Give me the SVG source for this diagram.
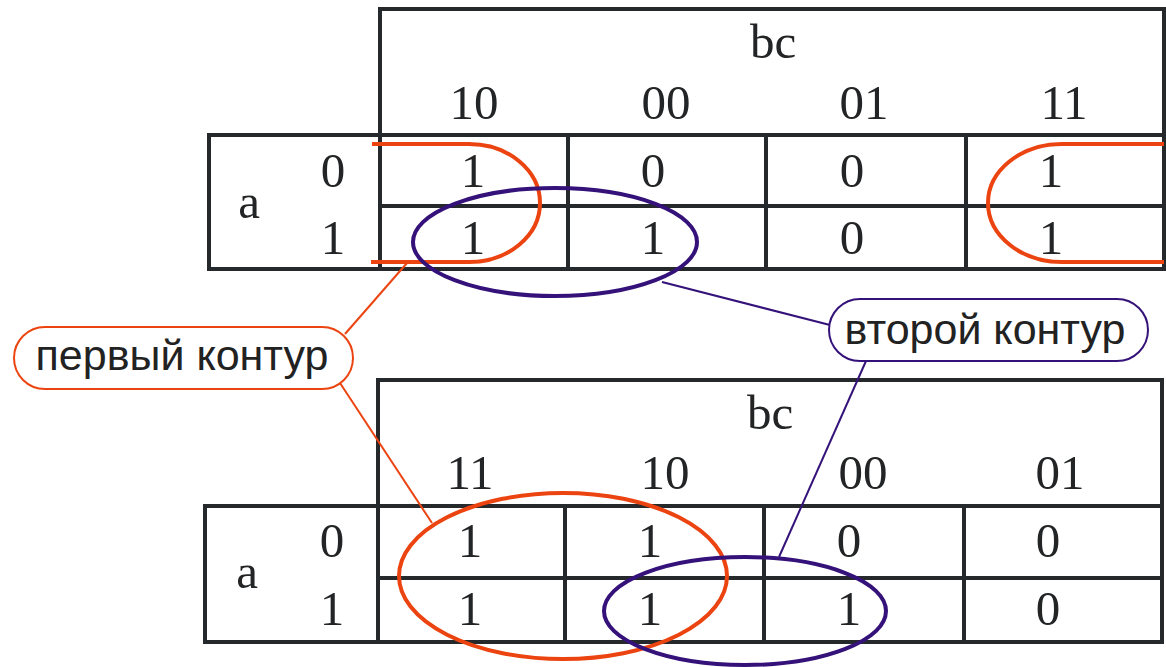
<svg xmlns="http://www.w3.org/2000/svg" width="1166" height="667" viewBox="0 0 1166 667">
<style>
.grid{fill:none;stroke:#26292c;stroke-width:4}
.t{font-family:"Liberation Serif","Times New Roman",serif;font-size:49px;fill:#222426;text-anchor:middle}
.lbl{font-family:"Liberation Sans",Arial,sans-serif;font-size:43px;fill:#222;text-anchor:middle}
.or{fill:none;stroke:#ec4410;stroke-width:4}
.pu{fill:none;stroke:#34127a;stroke-width:4}
.orl{fill:none;stroke:#ec4410;stroke-width:2}
.pul{fill:none;stroke:#34127a;stroke-width:2}
</style>
<rect width="1166" height="667" fill="#fff"/>

<g id="table1">
<rect class="grid" x="380" y="9" width="784" height="126"/>
<rect class="grid" x="209" y="135" width="171" height="134"/>
<rect class="grid" x="380" y="135" width="784" height="134"/>
<line class="grid" x1="380" y1="206" x2="1164" y2="206"/>
<line class="grid" x1="568" y1="135" x2="568" y2="269"/>
<line class="grid" x1="766" y1="135" x2="766" y2="269"/>
<line class="grid" x1="966" y1="135" x2="966" y2="269"/>
<text class="t" x="773" y="58">bc</text>
<text class="t" x="474" y="119">10</text>
<text class="t" x="666" y="119">00</text>
<text class="t" x="864" y="119">01</text>
<text class="t" x="1064" y="119">11</text>
<text class="t" x="249" y="218">a</text>
<text class="t" x="333" y="187">0</text>
<text class="t" x="333" y="254">1</text>
<text class="t" x="473" y="187">1</text>
<text class="t" x="653" y="187">0</text>
<text class="t" x="852" y="187">0</text>
<text class="t" x="1051" y="187">1</text>
<text class="t" x="473" y="254">1</text>
<text class="t" x="653" y="254">1</text>
<text class="t" x="852" y="254">0</text>
<text class="t" x="1051" y="254">1</text>
</g>

<g id="table2">
<rect class="grid" x="378" y="380" width="784" height="126"/>
<rect class="grid" x="205" y="506" width="173" height="136"/>
<rect class="grid" x="378" y="506" width="784" height="136"/>
<line class="grid" x1="378" y1="578" x2="1162" y2="578"/>
<line class="grid" x1="565" y1="506" x2="565" y2="642"/>
<line class="grid" x1="764" y1="506" x2="764" y2="642"/>
<line class="grid" x1="964" y1="506" x2="964" y2="642"/>
<text class="t" x="770" y="429">bc</text>
<text class="t" x="470" y="489">11</text>
<text class="t" x="665" y="489">10</text>
<text class="t" x="863" y="489">00</text>
<text class="t" x="1060" y="489">01</text>
<text class="t" x="247" y="588">a</text>
<text class="t" x="332" y="557">0</text>
<text class="t" x="332" y="625">1</text>
<text class="t" x="470" y="557">1</text>
<text class="t" x="650" y="557">1</text>
<text class="t" x="849" y="557">0</text>
<text class="t" x="1048" y="557">0</text>
<text class="t" x="470" y="625">1</text>
<text class="t" x="650" y="625">1</text>
<text class="t" x="849" y="625">1</text>
<text class="t" x="1048" y="625">0</text>
</g>

<g id="contours">
<path class="or" d="M372 144 H469 A71 59 0 0 1 469 262 H371"/>
<path class="or" d="M1164 144 H1062 A74 59 0 0 0 1062 262 H1164"/>
<ellipse class="pu" cx="555" cy="242" rx="142" ry="54"/>
<ellipse class="or" cx="563" cy="576" rx="164" ry="83"/>
<ellipse class="pu" cx="745" cy="611" rx="141" ry="54"/>
</g>

<g id="connectors">
<line class="orl" x1="345" y1="334" x2="407" y2="263"/>
<line class="orl" x1="340" y1="383" x2="432" y2="523"/>
<line class="pul" x1="662" y1="282" x2="830" y2="325"/>
<line class="pul" x1="866" y1="361" x2="779" y2="557"/>
</g>

<g id="callout1">
<rect x="14" y="327" width="339" height="62" rx="31" fill="#fff" stroke="#ec4410" stroke-width="2"/>
<text class="lbl" x="182" y="370">первый контур</text>
</g>

<g id="callout2">
<rect x="829" y="299" width="319" height="62" rx="31" fill="#fff" stroke="#34127a" stroke-width="2"/>
<text class="lbl" x="985" y="344">второй контур</text>
</g>
</svg>
